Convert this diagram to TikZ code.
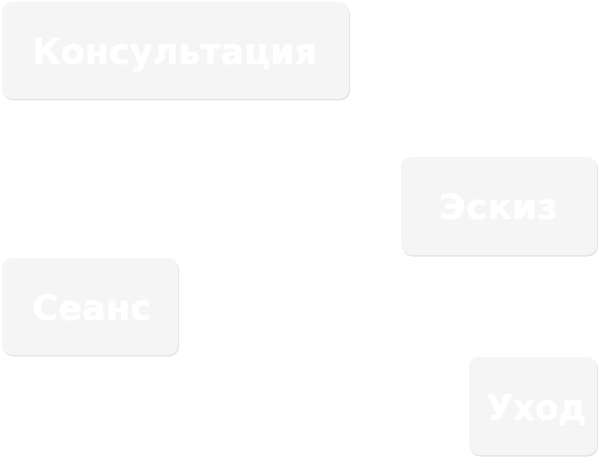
\documentclass[tikz,border=0pt]{standalone}
\usepackage{fontspec}
\setmainfont{DejaVu Sans}[BoldFeatures={FakeBold=1.3}]
\usetikzlibrary{shadows}
\begin{document}
\begin{tikzpicture}[x=1pt,y=-1pt,
  card/.style={draw=none, fill=cardfill, rounded corners=10pt,
    drop shadow={shadow xshift=1.0pt, shadow yshift=-1.5pt, opacity=0.10, fill=black}},
  lbl/.style={text=white, font=\bfseries\fontsize{34}{40}\selectfont, inner sep=0pt, anchor=base west}]
\definecolor{cardfill}{HTML}{F5F5F5}
\useasboundingbox (0,0) rectangle (599,457);
\fill[white] (0,0) rectangle (599,457);
\path[card] (2,2) rectangle (349,99);
\path[card] (401,157) rectangle (597,255);
\path[card] (2,258) rectangle (178,355);
\path[card] (469,357) rectangle (597,455);
\node[lbl] (konsult) at (32,64) {\resizebox{285pt}{26pt}{Консультация}};
\node[lbl] (eskiz) at (439,219) {\resizebox{119pt}{26pt}{Эскиз}};
\node[lbl] (seans) at (32,320) {\resizebox{119pt}{26pt}{Сеанс}};
\node[lbl] (uhod) at (486,420) {\resizebox{100pt}{26pt}{Уход}};
\end{tikzpicture}
\end{document}
